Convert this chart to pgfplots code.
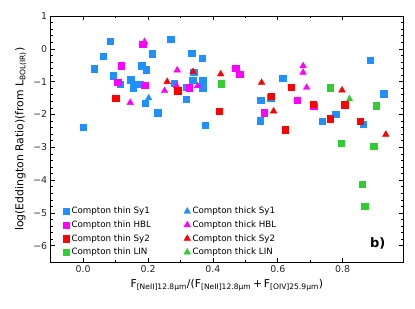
\documentclass[border=0pt]{standalone}
\usepackage{pgfplots}
\pgfplotsset{compat=1.18}
\usepackage{amsmath}
\usepackage{fontspec}
\setmainfont{DejaVu Sans}
\definecolor{cblue}{HTML}{1E90FF}
\definecolor{cmag}{HTML}{FF00FF}
\definecolor{cred}{HTML}{FF0000}
\definecolor{cgreen}{HTML}{32CD32}
\begin{document}
\begin{tikzpicture}
\begin{axis}[
  name=ax,
  scale only axis,
  width=352pt, height=246pt,
  xmin=-0.1, xmax=0.986,
  ymin=-6.5, ymax=1,
  axis line style={line width=0.9pt, black},
  tick style={black, line width=0.6pt},
  major tick length=4pt,
  minor tick length=2.2pt,
  tick align=inside,
  xtick pos=both, ytick pos=both,
  xtick={0,0.2,0.4,0.6,0.8},
  xticklabels={0.0,0.2,0.4,0.6,0.8},
  minor x tick num=1,
  ytick={-6,-5,-4,-3,-2,-1,0,1},
  yticklabels={−6,−5,−4,−3,−2,−1,0,1},
  minor y tick num=4,
  tick label style={font=\fontsize{9.4}{11}\selectfont, text=black!85},
  xlabel={F$_{\text{[NeII]12.8μm}}$/(F$_{\text{[NeII]12.8μm}}$\,+\,F$_{\text{[OIV]25.9μm}}$)},
  ylabel={log(Eddington Ratio)(from L$_{\text{BOL(IR)}}$)},
  label style={font=\fontsize{10.8}{13}\selectfont},
  legend columns=2,
  legend cell align=left,
  legend style={at={(0.026,0.24)}, anchor=north west, draw=none, fill=none,
    font=\fontsize{8.7}{10.5}\selectfont, row sep=1.5pt,
    /tikz/every even column/.append style={column sep=31pt}},
  every axis plot/.append style={only marks,
    legend image code/.code={\draw[mark repeat=2,mark phase=2] plot coordinates {(0cm,0cm) (0.3cm,0cm) (0.9cm,0cm)};}},
]
% thin Sy1
\addplot[mark=square*, mark size=3.2pt, color=cblue] coordinates {
(0.000,-2.39) (0.034,-0.61) (0.061,-0.23) (0.083,0.24) (0.093,-0.82)
(0.114,-1.07) (0.147,-0.94) (0.155,-1.19) (0.163,-1.07) (0.176,-1.07)
(0.181,-0.51) (0.195,-0.64) (0.191,-1.65) (0.212,-0.15) (0.230,-1.95)
(0.270,0.29) (0.281,-1.04) (0.318,-1.54) (0.319,-1.17) (0.335,-0.14)
(0.338,-0.95) (0.341,-0.71) (0.367,-0.28) (0.368,-1.19) (0.369,-0.95)
(0.376,-2.33) (0.547,-1.56) (0.546,-2.19) (0.578,-1.49) (0.615,-0.90)
(0.736,-2.20) (0.778,-2.00) (0.863,-2.29) (0.885,-0.34) (0.926,-1.37)
};
\addlegendentry{Compton thin Sy1}
% thick Sy1
\addplot[mark=triangle*, mark size=3.8pt, color=cblue] coordinates {
(0.202,-1.50)
};
\addlegendentry{Compton thick Sy1}
% thin HBL
\addplot[mark=square*, mark size=3.2pt, color=cmag] coordinates {
(0.107,-1.02) (0.118,-0.51) (0.184,0.15) (0.190,-1.10) (0.327,-1.19)
(0.470,-0.59) (0.482,-0.77) (0.559,-1.95) (0.660,-1.57) (0.711,-1.74)
};
\addlegendentry{Compton thin HBL}
% thick HBL
\addplot[mark=triangle*, mark size=3.8pt, color=cmag] coordinates {
(0.189,0.21) (0.145,-1.64) (0.290,-0.65) (0.251,-1.28) (0.288,-1.13)
(0.353,-1.13) (0.678,-0.52) (0.678,-0.72) (0.689,-1.18)
};
\addlegendentry{Compton thick HBL}
% thin Sy2
\addplot[mark=square*, mark size=3.2pt, color=cred] coordinates {
(0.100,-1.51) (0.292,-1.28) (0.420,-1.90) (0.580,-1.45) (0.623,-2.46)
(0.642,-1.16) (0.709,-1.69) (0.762,-2.13) (0.806,-1.70) (0.854,-2.21)
};
\addlegendentry{Compton thin Sy2}
% thick Sy2
\addplot[mark=triangle*, mark size=3.8pt, color=cred] coordinates {
(0.259,-1.00) (0.339,-0.70) (0.424,-0.77) (0.550,-1.03) (0.587,-1.90)
(0.798,-1.26) (0.933,-2.61)
};
\addlegendentry{Compton thick Sy2}
% thin LIN
\addplot[mark=square*, mark size=3.2pt, color=cgreen] coordinates {
(0.425,-1.06) (0.761,-1.18) (0.903,-1.73) (0.796,-2.88) (0.896,-2.96)
(0.860,-4.12) (0.868,-4.79)
};
\addlegendentry{Compton thin LIN}
% thick LIN
\addplot[mark=triangle*, mark size=3.8pt, color=cgreen] coordinates {
(0.821,-1.53)
};
\addlegendentry{Compton thick LIN}
\node[font=\fontsize{13}{15}\selectfont\bfseries] at (axis cs:0.908,-5.93) {b)};
\end{axis}
\pgfresetboundingbox
\path ([shift={(-50.7pt,-46pt)}]ax.south west) rectangle ([shift={(12pt,16pt)}]ax.north east);
\end{tikzpicture}
\end{document}
